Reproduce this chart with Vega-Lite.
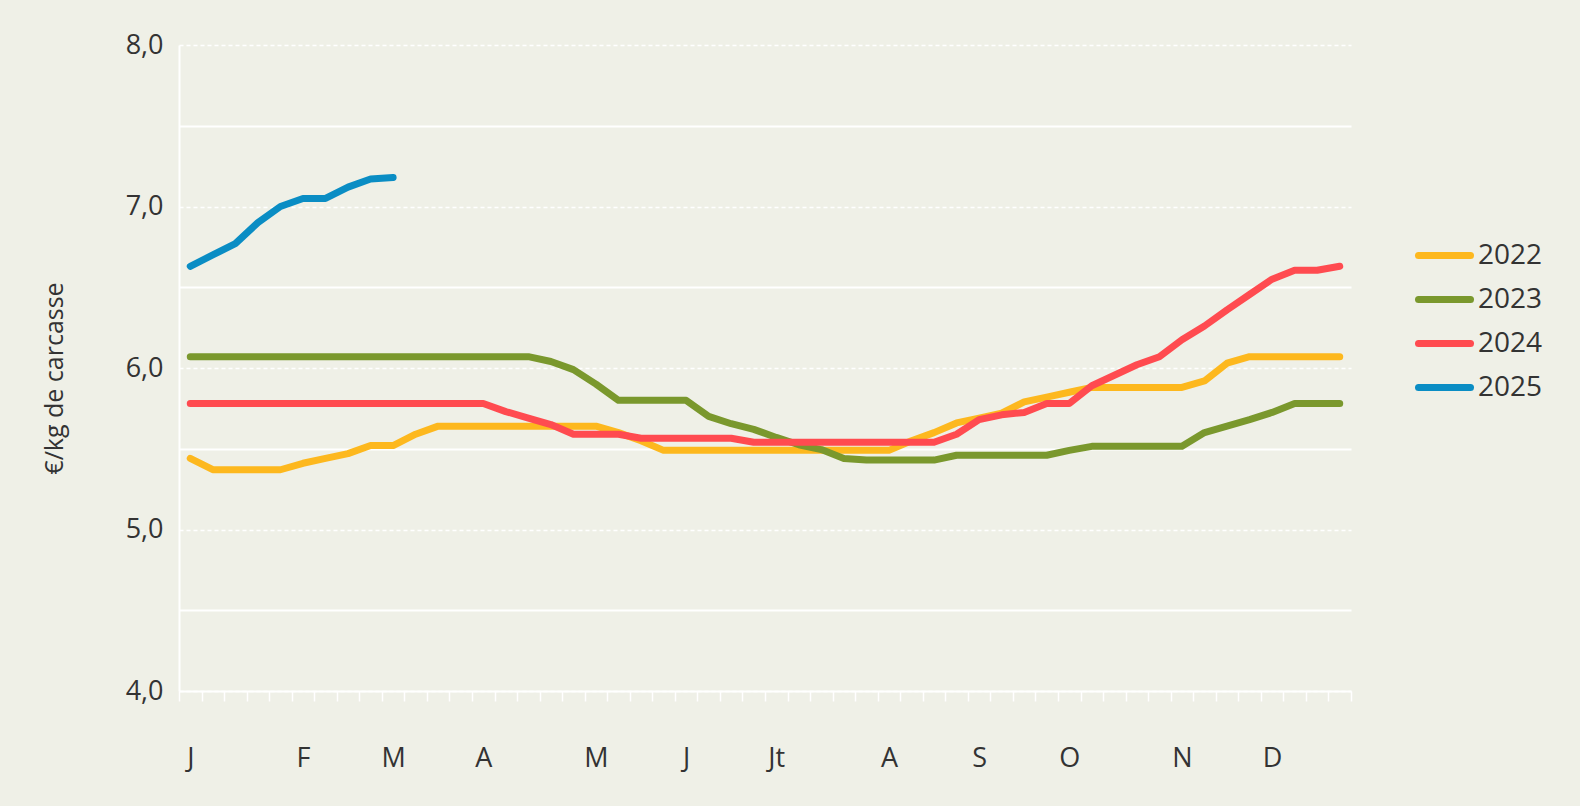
{
  "$schema": "https://vega.github.io/schema/vega-lite/v6.json",
  "width": 1172,
  "height": 646,
  "autosize": "none",
  "padding": {"left": 179, "top": 45, "right": 229, "bottom": 115},
  "background": "#EFF0E7",
  "config": {"view": {"stroke": null}, "font": "Open Sans"},
  "data": {
    "values": [
      {"week":1,"year":"2022","price":5.44},{"week":2,"year":"2022","price":5.37},{"week":3,"year":"2022","price":5.37},{"week":4,"year":"2022","price":5.37},{"week":5,"year":"2022","price":5.37},{"week":6,"year":"2022","price":5.41},{"week":7,"year":"2022","price":5.44},{"week":8,"year":"2022","price":5.47},{"week":9,"year":"2022","price":5.52},{"week":10,"year":"2022","price":5.52},
      {"week":11,"year":"2022","price":5.59},{"week":12,"year":"2022","price":5.64},{"week":13,"year":"2022","price":5.64},{"week":14,"year":"2022","price":5.64},{"week":15,"year":"2022","price":5.64},{"week":16,"year":"2022","price":5.64},{"week":17,"year":"2022","price":5.64},{"week":18,"year":"2022","price":5.64},{"week":19,"year":"2022","price":5.64},{"week":20,"year":"2022","price":5.60},
      {"week":21,"year":"2022","price":5.55},{"week":22,"year":"2022","price":5.49},{"week":23,"year":"2022","price":5.49},{"week":24,"year":"2022","price":5.49},{"week":25,"year":"2022","price":5.49},{"week":26,"year":"2022","price":5.49},{"week":27,"year":"2022","price":5.49},{"week":28,"year":"2022","price":5.49},{"week":29,"year":"2022","price":5.49},{"week":30,"year":"2022","price":5.49},
      {"week":31,"year":"2022","price":5.49},{"week":32,"year":"2022","price":5.49},{"week":33,"year":"2022","price":5.55},{"week":34,"year":"2022","price":5.60},{"week":35,"year":"2022","price":5.66},{"week":36,"year":"2022","price":5.69},{"week":37,"year":"2022","price":5.72},{"week":38,"year":"2022","price":5.79},{"week":39,"year":"2022","price":5.82},{"week":40,"year":"2022","price":5.85},
      {"week":41,"year":"2022","price":5.88},{"week":42,"year":"2022","price":5.88},{"week":43,"year":"2022","price":5.88},{"week":44,"year":"2022","price":5.88},{"week":45,"year":"2022","price":5.88},{"week":46,"year":"2022","price":5.92},{"week":47,"year":"2022","price":6.03},{"week":48,"year":"2022","price":6.07},{"week":49,"year":"2022","price":6.07},{"week":50,"year":"2022","price":6.07},
      {"week":51,"year":"2022","price":6.07},{"week":52,"year":"2022","price":6.07},

      {"week":1,"year":"2023","price":6.07},{"week":2,"year":"2023","price":6.07},{"week":3,"year":"2023","price":6.07},{"week":4,"year":"2023","price":6.07},{"week":5,"year":"2023","price":6.07},{"week":6,"year":"2023","price":6.07},{"week":7,"year":"2023","price":6.07},{"week":8,"year":"2023","price":6.07},{"week":9,"year":"2023","price":6.07},{"week":10,"year":"2023","price":6.07},
      {"week":11,"year":"2023","price":6.07},{"week":12,"year":"2023","price":6.07},{"week":13,"year":"2023","price":6.07},{"week":14,"year":"2023","price":6.07},{"week":15,"year":"2023","price":6.07},{"week":16,"year":"2023","price":6.07},{"week":17,"year":"2023","price":6.04},{"week":18,"year":"2023","price":5.99},{"week":19,"year":"2023","price":5.90},{"week":20,"year":"2023","price":5.80},
      {"week":21,"year":"2023","price":5.80},{"week":22,"year":"2023","price":5.80},{"week":23,"year":"2023","price":5.80},{"week":24,"year":"2023","price":5.70},{"week":25,"year":"2023","price":5.655},{"week":26,"year":"2023","price":5.62},{"week":27,"year":"2023","price":5.57},{"week":28,"year":"2023","price":5.525},{"week":29,"year":"2023","price":5.495},{"week":30,"year":"2023","price":5.44},
      {"week":31,"year":"2023","price":5.43},{"week":32,"year":"2023","price":5.43},{"week":33,"year":"2023","price":5.43},{"week":34,"year":"2023","price":5.43},{"week":35,"year":"2023","price":5.46},{"week":36,"year":"2023","price":5.46},{"week":37,"year":"2023","price":5.46},{"week":38,"year":"2023","price":5.46},{"week":39,"year":"2023","price":5.46},{"week":40,"year":"2023","price":5.49},
      {"week":41,"year":"2023","price":5.515},{"week":42,"year":"2023","price":5.515},{"week":43,"year":"2023","price":5.515},{"week":44,"year":"2023","price":5.515},{"week":45,"year":"2023","price":5.515},{"week":46,"year":"2023","price":5.60},{"week":47,"year":"2023","price":5.64},{"week":48,"year":"2023","price":5.68},{"week":49,"year":"2023","price":5.725},{"week":50,"year":"2023","price":5.78},
      {"week":51,"year":"2023","price":5.78},{"week":52,"year":"2023","price":5.78},

      {"week":1,"year":"2024","price":5.78},{"week":2,"year":"2024","price":5.78},{"week":3,"year":"2024","price":5.78},{"week":4,"year":"2024","price":5.78},{"week":5,"year":"2024","price":5.78},{"week":6,"year":"2024","price":5.78},{"week":7,"year":"2024","price":5.78},{"week":8,"year":"2024","price":5.78},{"week":9,"year":"2024","price":5.78},{"week":10,"year":"2024","price":5.78},
      {"week":11,"year":"2024","price":5.78},{"week":12,"year":"2024","price":5.78},{"week":13,"year":"2024","price":5.78},{"week":14,"year":"2024","price":5.78},{"week":15,"year":"2024","price":5.73},{"week":16,"year":"2024","price":5.69},{"week":17,"year":"2024","price":5.65},{"week":18,"year":"2024","price":5.59},{"week":19,"year":"2024","price":5.59},{"week":20,"year":"2024","price":5.59},
      {"week":21,"year":"2024","price":5.565},{"week":22,"year":"2024","price":5.565},{"week":23,"year":"2024","price":5.565},{"week":24,"year":"2024","price":5.565},{"week":25,"year":"2024","price":5.565},{"week":26,"year":"2024","price":5.54},{"week":27,"year":"2024","price":5.54},{"week":28,"year":"2024","price":5.54},{"week":29,"year":"2024","price":5.54},{"week":30,"year":"2024","price":5.54},
      {"week":31,"year":"2024","price":5.54},{"week":32,"year":"2024","price":5.54},{"week":33,"year":"2024","price":5.54},{"week":34,"year":"2024","price":5.54},{"week":35,"year":"2024","price":5.59},{"week":36,"year":"2024","price":5.68},{"week":37,"year":"2024","price":5.71},{"week":38,"year":"2024","price":5.725},{"week":39,"year":"2024","price":5.78},{"week":40,"year":"2024","price":5.78},
      {"week":41,"year":"2024","price":5.89},{"week":42,"year":"2024","price":5.955},{"week":43,"year":"2024","price":6.02},{"week":44,"year":"2024","price":6.07},{"week":45,"year":"2024","price":6.175},{"week":46,"year":"2024","price":6.26},{"week":47,"year":"2024","price":6.36},{"week":48,"year":"2024","price":6.455},{"week":49,"year":"2024","price":6.55},{"week":50,"year":"2024","price":6.605},
      {"week":51,"year":"2024","price":6.605},{"week":52,"year":"2024","price":6.63},

      {"week":1,"year":"2025","price":6.63},{"week":2,"year":"2025","price":6.70},{"week":3,"year":"2025","price":6.77},{"week":4,"year":"2025","price":6.90},{"week":5,"year":"2025","price":7.00},{"week":6,"year":"2025","price":7.05},{"week":7,"year":"2025","price":7.05},{"week":8,"year":"2025","price":7.12},{"week":9,"year":"2025","price":7.17},{"week":10,"year":"2025","price":7.18}
    ]
  },
  "mark": {"type": "line", "strokeWidth": 7, "strokeCap": "round", "strokeJoin": "round"},
  "encoding": {
    "x": {
      "field": "week",
      "type": "quantitative",
      "scale": {"domain": [0.5, 52.5], "nice": false, "zero": false},
      "axis": {
        "title": null,
        "grid": false,
        "values": [0.5,1,1.5,2.5,3.5,4.5,5.5,6,6.5,7.5,8.5,9.5,10,10.5,11.5,12.5,13.5,14,14.5,15.5,16.5,17.5,18.5,19,19.5,20.5,21.5,22.5,23,23.5,24.5,25.5,26.5,27,27.5,28.5,29.5,30.5,31.5,32,32.5,33.5,34.5,35.5,36,36.5,37.5,38.5,39.5,40,40.5,41.5,42.5,43.5,44.5,45,45.5,46.5,47.5,48.5,49,49.5,50.5,51.5,52.5],
        "domainColor": "#ffffff",
        "domainWidth": 2,
        "tickColor": "#ffffff",
        "tickWidth": 1.5,
        "tickSize": 10,
        "tickOpacity": {"condition": {"test": "datum.value % 1 != 0", "value": 1}, "value": 0},
        "labelExpr": "datum.value == 1 ? 'J' : datum.value == 6 ? 'F' : datum.value == 10 ? 'M' : datum.value == 14 ? 'A' : datum.value == 19 ? 'M' : datum.value == 23 ? 'J' : datum.value == 27 ? 'Jt' : datum.value == 32 ? 'A' : datum.value == 36 ? 'S' : datum.value == 40 ? 'O' : datum.value == 45 ? 'N' : datum.value == 49 ? 'D' : ''",
        "labelFontSize": 27,
        "labelColor": "#333333",
        "labelBaseline": "middle",
        "labelPadding": 57,
        "labelOverlap": false,
        "labelFlush": false
      }
    },
    "y": {
      "field": "price",
      "type": "quantitative",
      "scale": {"domain": [4, 8], "nice": false, "zero": false},
      "axis": {
        "title": "€/kg de carcasse",
        "titleFontSize": 25,
        "titleFontWeight": "normal",
        "titleColor": "#333333",
        "titleAngle": -90,
        "titleX": -125,
        "titleY": 333,
        "titleAlign": "center",
        "titleBaseline": "middle",
        "values": [4,4.5,5,5.5,6,6.5,7,7.5,8],
        "ticks": false,
        "domainColor": "#ffffff",
        "domainWidth": 2,
        "gridColor": "#ffffff",
        "gridWidth": {"condition": {"test": "datum.value % 1 == 0", "value": 1.5}, "value": 2},
        "gridDash": {"condition": {"test": "datum.value % 1 == 0", "value": [4, 3]}, "value": []},
        "gridOpacity": 1,
        "labelExpr": "datum.value % 1 == 0 ? replace(format(datum.value, '.1f'), '.', ',') : ''",
        "labelFontSize": 27,
        "labelColor": "#333333",
        "labelPadding": 16
      }
    },
    "color": {
      "field": "year",
      "type": "nominal",
      "scale": {"domain": ["2022", "2023", "2024", "2025"], "range": ["#FDB81E", "#7A982D", "#FF4B50", "#0A8DC4"]},
      "legend": {
        "title": null,
        "orient": "none",
        "legendX": 1236,
        "legendY": 181,
        "symbolType": "stroke",
        "symbolSize": 2704,
        "symbolStrokeWidth": 7,
        "labelFontSize": 28,
        "labelColor": "#333333",
        "labelOffset": 4,
        "rowPadding": -0.5,
        "encode": {"symbols": {"update": {"strokeCap": {"value": "round"}}}}
      }
    }
  }
}
